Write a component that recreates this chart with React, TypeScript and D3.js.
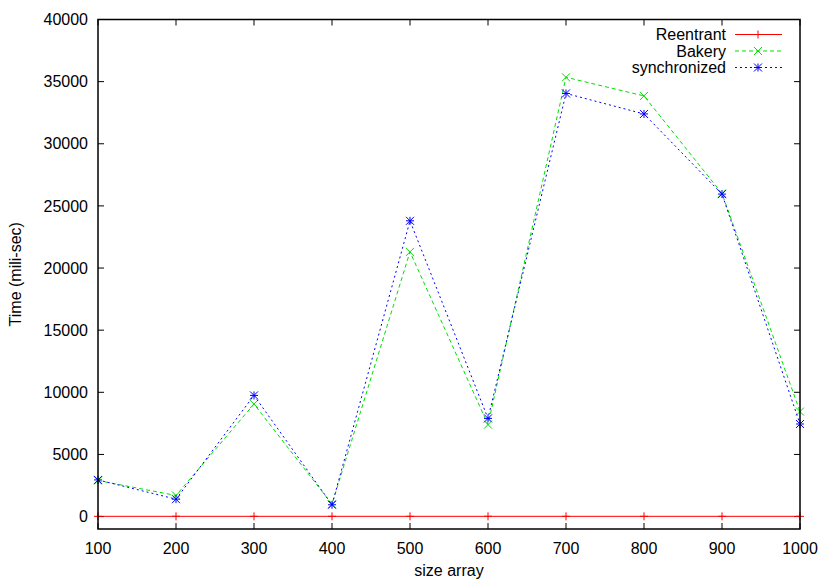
import React from "react";
import * as d3 from "d3";

const sizes = [100, 200, 300, 400, 500, 600, 700, 800, 900, 1000];
const reentrant = [20, 20, 20, 20, 20, 20, 20, 20, 20, 20];
const bakery = [2900, 1700, 9050, 1000, 21300, 7400, 35350, 33850, 26000, 8450];
const synchronizedVals = [2950, 1400, 9750, 950, 23800, 7900, 34050, 32400, 25950, 7450];
const xTicks = [100, 200, 300, 400, 500, 600, 700, 800, 900, 1000];
const yTicks = [0, 5000, 10000, 15000, 20000, 25000, 30000, 35000, 40000];
const seriesNames = ["Reentrant", "Bakery", "synchronized"];

const W = 830, H = 581;
const L = 98, R = 800, T = 19.5, B = 529;
const FONT = "'Liberation Sans', Arial, Helvetica, sans-serif";

function Marker({ kind, x, y, color }: { kind: string; x: number; y: number; color: string }) {
  const s = 4;
  if (kind === "plus") {
    return (
      <g stroke={color} strokeWidth={1}>
        <line x1={x} y1={y - s} x2={x} y2={y + s} />
        <line x1={x - s} y1={y} x2={x + s} y2={y} />
      </g>
    );
  }
  if (kind === "cross") {
    return (
      <g stroke={color} strokeWidth={1}>
        <line x1={x - s} y1={y - s} x2={x + s} y2={y + s} />
        <line x1={x - s} y1={y + s} x2={x + s} y2={y - s} />
      </g>
    );
  }
  return (
    <g stroke={color} strokeWidth={1}>
      <line x1={x - s} y1={y - s} x2={x + s} y2={y + s} />
      <line x1={x - s} y1={y + s} x2={x + s} y2={y - s} />
      <line x1={x} y1={y - s} x2={x} y2={y + s} />
      <line x1={x - s} y1={y} x2={x + s} y2={y} />
    </g>
  );
}

export default function App() {
  const x = d3.scaleLinear().domain([100, 1000]).range([L, R]);
  const y = d3.scaleLinear().domain([-1000, 40000]).range([B, T]);
  const line = d3
    .line<[number, number]>()
    .x((d) => x(d[0]))
    .y((d) => y(d[1]));

  const series = [
    { name: seriesNames[0], vals: reentrant, color: "#ff0000", dash: "none", kind: "plus" },
    { name: seriesNames[1], vals: bakery, color: "#00e000", dash: "4,3", kind: "cross" },
    { name: seriesNames[2], vals: synchronizedVals, color: "#0000ff", dash: "2,3", kind: "star" },
  ];

  const tl = 6;

  return (
    <svg width={W} height={H} style={{ position: "absolute", left: 0, top: 0, background: "#fff" }}>
      <rect x={0} y={0} width={W} height={H} fill="#fff" />
      {/* ticks */}
      <g stroke="#000" strokeWidth={1}>
        {yTicks.map((t) => (
          <g key={"y" + t}>
            <line x1={L} x2={L + tl} y1={y(t)} y2={y(t)} />
            <line x1={R} x2={R - tl} y1={y(t)} y2={y(t)} />
          </g>
        ))}
        {xTicks.map((t) => (
          <g key={"x" + t}>
            <line x1={x(t)} x2={x(t)} y1={B} y2={B - tl} />
            <line x1={x(t)} x2={x(t)} y1={T} y2={T + tl} />
          </g>
        ))}
      </g>
      <g fontFamily={FONT} fontSize={16} fill="#000">
        {yTicks.map((t) => (
          <text key={"yl" + t} x={L - 10} y={y(t)} dy="0.35em" textAnchor="end">
            {t}
          </text>
        ))}
        {xTicks.map((t) => (
          <text key={"xl" + t} x={x(t)} y={554} textAnchor="middle">
            {t}
          </text>
        ))}
        <text x={(L + R) / 2} y={576} textAnchor="middle">size array</text>
        <text transform={`translate(21,${(T + B) / 2}) rotate(-90)`} textAnchor="middle">
          Time (mili-sec)
        </text>
      </g>
      {/* series */}
      {series.map((s) => {
        const pts = sizes.map((v, i) => [v, s.vals[i]] as [number, number]);
        return (
          <g key={s.name}>
            <path d={line(pts) || ""} fill="none" stroke={s.color} strokeWidth={1} strokeDasharray={s.dash} />
            {pts.map((p, i) => (
              <Marker key={i} kind={s.kind} x={x(p[0])} y={y(p[1])} color={s.color} />
            ))}
          </g>
        );
      })}
      {/* legend */}
      <g fontFamily={FONT} fontSize={16}>
        {series.map((s, i) => {
          const ly = 34.5 + i * 16.5;
          return (
            <g key={"lg" + s.name}>
              <text x={726} y={ly} dy="0.35em" textAnchor="end" fill="#000">
                {s.name}
              </text>
              <line x1={735} x2={782} y1={ly} y2={ly} stroke={s.color} strokeWidth={1} strokeDasharray={s.dash} />
              <Marker kind={s.kind} x={758} y={ly} color={s.color} />
            </g>
          );
        })}
      </g>
      <rect x={L} y={T} width={R - L} height={B - T} fill="none" stroke="#000" strokeWidth={1.5} />
    </svg>
  );
}
